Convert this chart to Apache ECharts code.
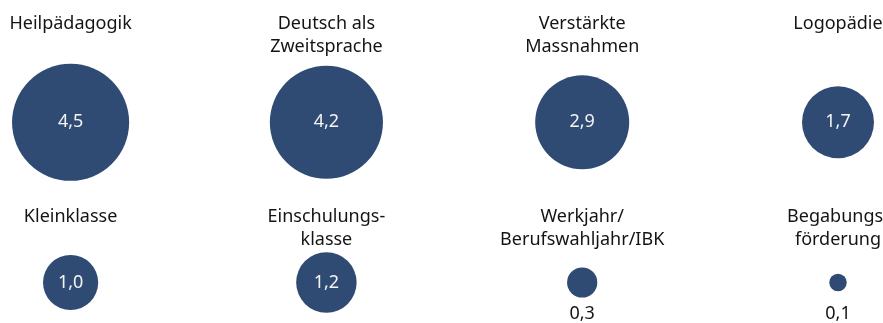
<!DOCTYPE html>
<html>
<head>
<meta charset="utf-8">
<script src="https://cdn.jsdelivr.net/npm/echarts@6/dist/echarts.min.js"></script>
<style>
  html, body { margin: 0; padding: 0; background: #ffffff; }
  #chart { width: 883px; height: 323px; }
</style>
</head>
<body>
<div id="chart"></div>
<script>
// Sonderpädagogische Massnahmen – Anteile in %
const categories = [
  'Heilpädagogik', 'Deutsch als\nZweitsprache', 'Verstärkte\nMassnahmen', 'Logopädie',
  'Kleinklasse', 'Einschulungs-\nklasse', 'Werkjahr/\nBerufswahljahr/IBK', 'Begabungs-\nförderung'
];
const values = [4.5, 4.2, 2.9, 1.7, 1.0, 1.2, 0.3, 0.1];
const columns = [0, 1, 2, 3, 0, 1, 2, 3];
const rows = [0, 0, 0, 0, 1, 1, 1, 1];

const BLUE = '#2f4b74';
const TEXT = '#141414';
const FONT = 'Noto Sans';
const SCALE = 55.2;          // bubble diameter per sqrt(value)
const SMALL = 0.5;           // values below this get their label under the bubble

const points = values.map((v, i) => ({
  name: categories[i],
  value: [columns[i], rows[i], v]
}));

const chart = echarts.init(document.getElementById('chart'), null, { renderer: 'canvas' });
chart.setOption({
  animation: false,
  backgroundColor: '#ffffff',
  grid: { left: 70.6, right: 883 - 838, top: 122.3, bottom: 323 - 282.5 },
  xAxis: { type: 'value', min: 0, max: 3, show: false },
  yAxis: { type: 'value', min: 0, max: 1, inverse: true, show: false },
  series: [
    {
      // category titles above each bubble
      type: 'scatter',
      data: points,
      symbolSize: 0,
      silent: true,
      itemStyle: { opacity: 1 },
      label: {
        show: true,
        position: 'inside',
        formatter: p => p.name,
        color: TEXT,
        opacity: 1,
        fontFamily: FONT,
        fontSize: 18,
        lineHeight: 23,
        align: 'center',
        verticalAlign: 'top'
      },
      labelLayout: p => {
        const row = rows[p.dataIndex];
        return { dy: row === 0 ? -110 : -77 };
      }
    },
    {
      type: 'scatter',
      data: points.map(pt => pt.value[2] < SMALL ? {
        name: pt.name, value: pt.value,
        label: { color: TEXT, offset: [0, 31] }
      } : pt),
      symbolSize: d => SCALE * Math.sqrt(d[2]),
      itemStyle: { color: BLUE, opacity: 1 },
      label: {
        show: true,
        position: 'inside',
        formatter: p => p.value[2].toFixed(1).replace('.', ','),
        fontFamily: FONT,
        fontSize: 18,
        opacity: 1,
        color: '#f4f4f4'
      }
    }
  ]
});
</script>
</body>
</html>
